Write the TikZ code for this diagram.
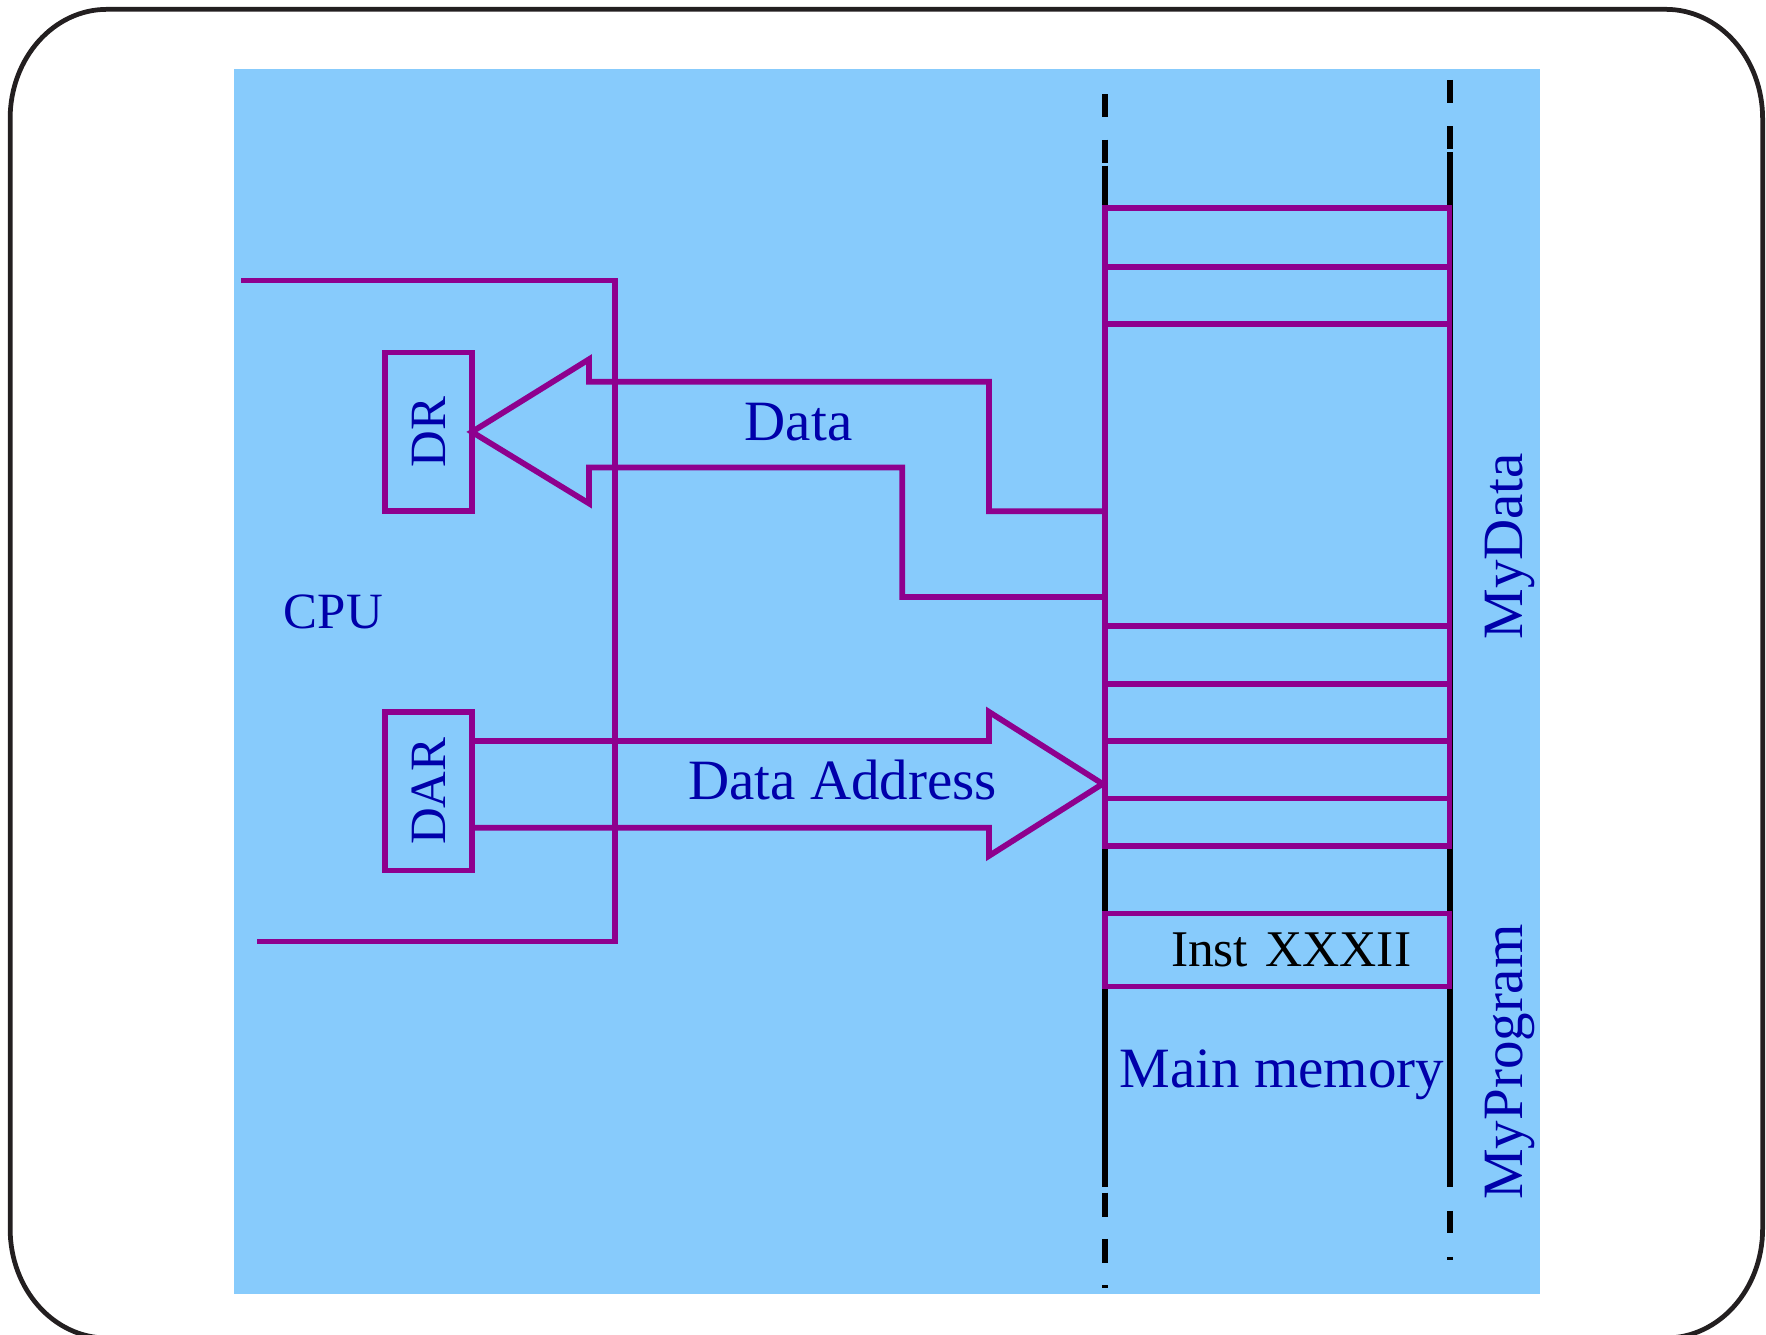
\documentclass[tikz,border=0pt]{standalone}
\usepackage{fontspec}
\setmainfont{Liberation Serif}
\definecolor{bgblue}{RGB}{135,203,252}
\definecolor{pur}{RGB}{142,0,142}
\definecolor{txtblue}{RGB}{0,0,170}
\definecolor{framec}{RGB}{35,31,32}
\tikzset{
  pline/.style={draw=pur, line width=2.9pt},
  mline/.style={draw=black, line width=3pt},
  regbox/.style={pline, rotate=90, minimum width=2.82cm, minimum height=1.54cm, inner sep=0pt, outer sep=0pt, text=txtblue, font=\fontsize{25.7}{27}\selectfont},
  cell/.style={pline, minimum width=6.12cm, inner sep=0pt, outer sep=0pt, anchor=north west},
  bigtxt/.style={text=txtblue, font=\fontsize{28.8}{30}\selectfont, inner sep=0pt},
  smalltxt/.style={text=txtblue, font=\fontsize{25.7}{27}\selectfont, inner sep=0pt}
}
\begin{document}
\begin{tikzpicture}[x=0.02cm,y=-0.02cm, line join=miter]
\useasboundingbox (0,0) rectangle (1568,1185);
% outer frame
\draw[framec, line width=2.4pt] (9,105.3) .. controls (9,51.7) and (47.5,8.3) .. (95,8.3)
  -- (1479,8.3) .. controls (1526.5,8.3) and (1565,51.7) .. (1565,105.3)
  -- (1565,1091) .. controls (1565,1144.6) and (1526.5,1188) .. (1479,1188)
  -- (95,1188) .. controls (47.5,1188) and (9,1144.6) .. (9,1091) -- cycle;
% background
\fill[bgblue] (208,61) rectangle (1367,1149);
% CPU bracket
\draw[pline] (214,249) -- (546,249) -- (546,836) -- (228,836);
% registers
\node[regbox] (DR) at (380.5,383.5) {DR};
\node[regbox] (DAR) at (380.5,702.5) {DAR};
\node[smalltxt, anchor=base] (cpu) at (296,558) {CPU};
% memory black lines
\draw[mline] (981,147) -- (981,1054);
\draw[mline] (981,83.5) -- (981,104) (981,124) -- (981,145)
  (981,1059) -- (981,1080.5) (981,1100) -- (981,1121) (981,1141) -- (981,1143.5);
\draw[mline] (1287,135) -- (1287,1054);
\draw[mline] (1287,71) -- (1287,91.5) (1287,112) -- (1287,132)
  (1287,1075) -- (1287,1095) (1287,1116) -- (1287,1119);
% memory cells
\node[cell, fill=bgblue, minimum height=1.04cm] (c1) at (981,185) {};
\node[cell, minimum height=1.02cm] (c2) at (981,237) {};
\node[cell, minimum height=5.36cm] (c3) at (981,288) {};
\node[cell, minimum height=1.02cm] (c4) at (981,556) {};
\node[cell, minimum height=1.02cm] (c5) at (981,607) {};
\node[cell, minimum height=1.02cm] (c6) at (981,658) {};
\node[cell, minimum height=0.84cm] (c7) at (981,709) {};
\node[cell, fill=bgblue, minimum height=1.3cm, text width=4.76cm, inner xsep=0.68cm, align=right,
  font=\fontsize{26}{28}\selectfont] (inst) at (981,811) {Inst XXXII};
% Data arrow (memory -> DR)
\draw[pline] (c3.west |- 0,454) -- (878,454) -- (878,339) -- (523,339) -- (523,319)
  -- (DR.south) -- (523,447) -- (523,415) -- (801,415) -- (801,530) -- (c3.west |- 0,530);
\node[bigtxt, anchor=base] (datalbl) at (709,391) {Data};
% Data Address arrow (DAR -> memory)
\draw[pline] (DAR.south |- 0,658) -- (878,658) -- (878,632) -- (979,696) -- (878,760)
  -- (878,735) -- (DAR.south |- 0,735);
\node[bigtxt, anchor=base] (addrlbl) at (748,710) {Data Address};
% memory labels
\node[bigtxt, anchor=base] (mainmem) at (1138,966) {Main memory};
\node[bigtxt, rotate=90, anchor=base] (mydata) at (1352,485) {MyData};
\node[bigtxt, rotate=90, anchor=base] (myprog) at (1352,943) {MyProgram};
\end{tikzpicture}
\end{document}
